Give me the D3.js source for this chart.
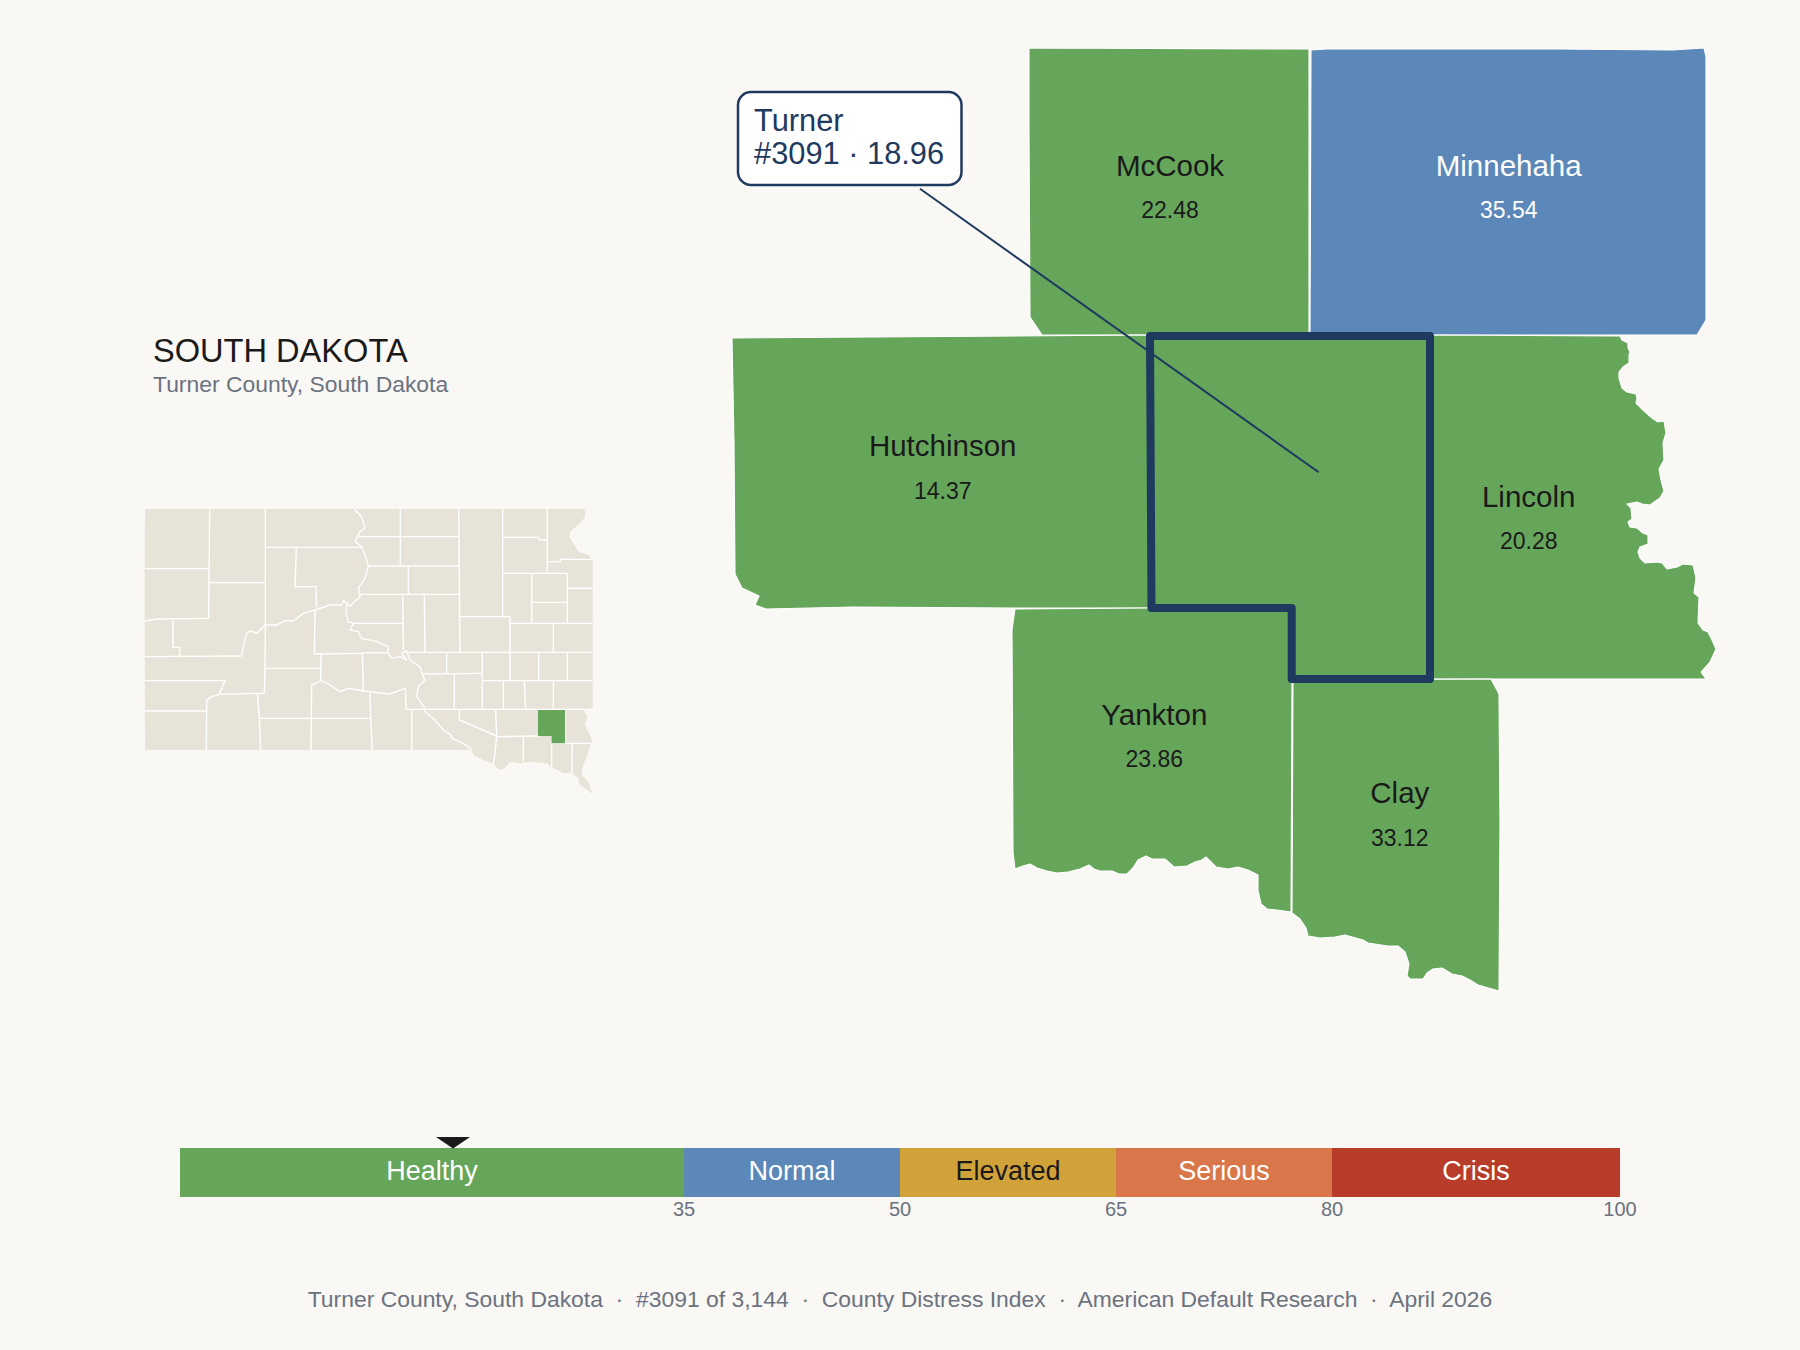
<!DOCTYPE html>
<html>
<head>
<meta charset="utf-8">
<script src="https://cdn.jsdelivr.net/npm/d3@7"></script>
<style>
  html, body { margin: 0; padding: 0; background: #faf8f4; }
  text { font-family: "Liberation Sans", Arial, sans-serif; }
</style>
</head>
<body>
<div id="chart"></div>
<script>
// band legend
var bandNames = ["Healthy", "Normal", "Elevated", "Serious", "Crisis"];
var bandBreaks = [35, 50, 65, 80];
var bandTicks = [35, 50, 65, 80, 100];
var bandColors = ["#66a65a", "#5b88b8", "#d1a23a", "#d9764a", "#b83c2a"];
var bandText = ["#ffffff", "#ffffff", "#1a1a1a", "#ffffff", "#ffffff"];
// labels sitting on the map use dark ink on green
var mapText = ["#1a1a1a", "#ffffff", "#1a1a1a", "#ffffff", "#ffffff"];

// neighbouring counties
var countyNames = ["McCook", "Minnehaha", "Hutchinson", "Lincoln", "Yankton", "Clay"];
var countyValues = [22.48, 35.54, 14.37, 20.28, 23.86, 33.12];

// focus county
var focusName = "Turner";
var focusRank = 3091;
var focusValue = 18.96;

// outlines, in map units
var mccookRing = [[309,18],[589,19],[589,305],[430,305],[322,305],[310,287],[309,100]];
var minnehahaRing = [[591,20],[607,19],[837,19],[953,20],[984,18],[986,27],[986,290],[977,305],[590,305]];
var hutchinsonRing = [[12,308],[428,305],[430,578],[293,578],[133,577],[46,579],[35,575],[39,566],[22,558],[15,544],[14,413]];
var turnerRing = [[430,306],[710,306],[710,649],[571.7,649],[571.7,578],[431.5,578]];
var lincolnRing = [[713,305],[900,306],[902,310],[908,313],[908,318],[910,322],[909,325],[909,333],[903,337],[899,342],[899,348],[902,358],[907,362],[916,364],[917,368],[916,373],[923,380],[932,388],[938,392],[944,391],[946,403],[943,413],[944,430],[939,439],[941,450],[944,461],[940,468],[930,475],[922,474],[917,472],[907,474],[911,478],[912,489],[908,492],[910,497],[917,498],[923,503],[928,505],[928,514],[920,517],[918,522],[920,528],[925,533],[937,532],[942,533],[947,539],[957,537],[963,534],[973,535],[976,548],[974,563],[979,567],[978,593],[983,600],[988,602],[992,610],[996,619],[990,632],[981,642],[986,649],[713,649]];
var yanktonRing = [[295,579],[431,578],[572,578],[572,649],[571,882],[557,880],[547,879],[541,874],[538,860],[538,845],[528,840],[518,837],[508,839],[496,837],[490,831],[486,827],[482,830],[475,832],[467,836],[454,837],[445,829],[432,829],[426,826],[418,830],[413,838],[407,844],[399,844],[392,841],[380,841],[374,839],[369,835],[360,839],[348,842],[337,843],[327,841],[317,838],[310,834],[303,836],[295,839],[293,822],[292,600]];
var clayRing = [[573,650],[771,649],[779,664],[780,793],[779,961],[772,959],[758,955],[750,950],[742,946],[732,944],[722,938],[713,939],[707,943],[703,949],[690,949],[687,946],[689,934],[685,922],[678,916],[668,916],[648,913],[643,910],[625,905],[615,907],[600,908],[588,906],[586,898],[580,889],[572,883]];

// where each county label and the leader line sit, in map units
var labelPoints = [[450,159.7],[788.7,159.7],[222.7,440],[808.7,490.7],[434.3,708.5],[679.8,787]];
var leaderPoints = [[200,158.7],[598.7,442.3]];

// state locator, in crop units
var stateRing = [[45,57],[1367,57],[1365,80],[1350,100],[1320,125],[1318,140],[1330,160],[1345,185],[1375,195],[1388,210],[1388,655],[1362,660],[1372,680],[1365,705],[1372,720],[1380,735],[1388,755],[1380,768],[1370,800],[1358,830],[1355,855],[1375,875],[1382,895],[1388,912],[1372,900],[1350,885],[1345,865],[1325,850],[1300,850],[1265,832],[1250,820],[1200,815],[1170,820],[1140,815],[1125,835],[1108,840],[1090,822],[1060,810],[1030,795],[1025,780],[45,780],[44,290]];
var stateFocusRing = [[1224,660],[1305,660],[1305,760],[1265,760],[1265,738],[1224,738]];
var stateBorders = [
  [[239,57],[236,385]], [[45,236],[236,236]], [[236,278],[406,278]],
  [[406,57],[406,405],[405,535],[403,610]],
  [[45,393],[80,387],[236,385]],
  [[129,390],[129,472],[149,472],[149,498]], [[45,500],[335,498]],
  [[335,498],[340,470],[350,430],[360,423],[380,430],[405,405],[440,405],[465,392],[490,393],[520,370],[555,360],[600,345],[635,345],[640,332],[660,348],[690,320],[685,295],[705,265],[715,230],[707,200],[695,170],[675,155],[690,125],[705,115],[695,80],[672,57]],
  [[406,172],[700,172]], [[499,172],[495,290],[559,290],[559,352]],
  [[555,360],[553,492],[697,490]], [[405,535],[573,535]], [[573,492],[572,570]],
  [[690,313],[988,313]], [[680,140],[985,140]], [[715,228],[988,228]], [[811,57],[811,228]],
  [[835,228],[835,313]], [[986,57],[990,490]], [[1118,57],[1118,380]],
  [[1118,142],[1225,142],[1228,150],[1250,150]], [[1252,57],[1252,250]], [[1118,250],[1312,250]],
  [[1205,250],[1205,400]], [[1205,337],[1312,337]], [[1312,250],[1312,400]], [[1312,295],[1388,295]],
  [[1252,215],[1290,215],[1292,208],[1388,208]],
  [[990,380],[1140,380]], [[1140,380],[1140,572]], [[1140,400],[1388,400]], [[1270,400],[1270,487]],
  [[835,487],[1388,487]], [[697,488],[775,488]],
  [[818,313],[820,480]], [[883,313],[885,487]],
  [[650,345],[648,370],[655,395],[670,400],[660,420],[685,425],[695,445],[740,455],[775,470],[775,490],[785,505],[810,500],[830,510],[815,490],[830,482],[840,510],[870,530],[878,555],[885,570],[865,590],[860,620],[885,655],[885,665],[915,690],[940,720],[962,735],[965,745],[1000,760],[1025,778]],
  [[670,400],[820,400]], [[697,490],[700,603]],
  [[545,585],[575,572],[600,585],[630,605],[655,595],[700,603],[780,612],[825,595]],
  [[545,585],[543,780]], [[720,610],[722,685],[727,780]], [[388,685],[722,685]],
  [[826,595],[828,658]], [[828,658],[1388,658]], [[845,658],[845,780]],
  [[382,610],[388,685],[392,780]],
  [[403,610],[382,610],[268,613],[285,572],[45,572]],
  [[268,613],[245,620],[230,632],[229,780]], [[45,663],[229,663]],
  [[950,487],[950,550]], [[1057,487],[1057,658]], [[878,552],[1057,550]], [[973,552],[973,658]],
  [[1057,572],[1388,572]], [[1120,572],[1120,658]], [[1183,572],[1187,658]], [[1270,572],[1270,658]],
  [[1226,487],[1226,572]], [[1312,487],[1312,572]],
  [[988,658],[988,690],[1100,738]], [[1097,658],[1100,738],[1095,790],[1090,822]],
  [[1100,740],[1225,738]], [[1265,760],[1388,760]],
  [[1180,740],[1180,815]], [[1265,760],[1265,832]], [[1327,762],[1325,850]], [[1305,660],[1305,760]]
];

var countyRings = [mccookRing, minnehahaRing, hutchinsonRing, lincolnRing, yanktonRing, clayRing];

var width = 1800, height = 1350;
var ink = "#1a1a1a", grey = "#6b7280", navy = "#1f3a5f";

var svg = d3.select("#chart")
  .append("svg")
    .attr("width", width)
    .attr("height", height)
    .style("display", "block")
    .style("background", "#faf8f4");

var bandColor = d3.scaleThreshold().domain(bandBreaks).range(bandColors);
var labelInk = d3.scaleThreshold().domain(bandBreaks).range(mapText);

// geojson rings have to end on their first point
function feature(ring, props) {
  return { type: "Feature", properties: props || {}, geometry: { type: "Polygon", coordinates: [ring.concat([ring[0]])] } };
}

// ------ main map
var projection = d3.geoIdentity().translate([720, 30]);
var mapPath = d3.geoPath(projection);
var mapG = svg.append("g");

var counties = countyNames.map((name, i) => feature(countyRings[i], { name: name, value: countyValues[i], at: projection(labelPoints[i]) }));
var focus = feature(turnerRing, { name: focusName, value: focusValue });

mapG.selectAll("path.county")
  .data(counties.concat([focus]))
  .enter()
  .append("path")
    .attr("class", "county")
    .attr("d", mapPath)
    .attr("fill", d => bandColor(d.properties.value))
    .attr("stroke", "#ffffff")
    .attr("stroke-width", 1.1)
    .attr("stroke-linejoin", "round");

mapG.append("path")
  .datum(focus)
  .attr("d", mapPath)
  .attr("fill", "none")
  .attr("stroke", navy)
  .attr("stroke-width", 8)
  .attr("stroke-linejoin", "round");

mapG.selectAll("text.name")
  .data(counties)
  .enter()
  .append("text")
    .attr("class", "name")
    .attr("x", d => d.properties.at[0])
    .attr("y", d => d.properties.at[1] - 14)
    .attr("text-anchor", "middle")
    .attr("font-size", 29.5)
    .attr("fill", d => labelInk(d.properties.value))
    .text(d => d.properties.name);

mapG.selectAll("text.value")
  .data(counties)
  .enter()
  .append("text")
    .attr("class", "value")
    .attr("x", d => d.properties.at[0])
    .attr("y", d => d.properties.at[1] + 28.6)
    .attr("text-anchor", "middle")
    .attr("font-size", 23)
    .attr("fill", d => labelInk(d.properties.value))
    .text(d => d3.format(".2f")(d.properties.value));

// callout
var callout = { x: 738, y: 92, w: 223.5, h: 93 };
var leader = leaderPoints.map(projection);

svg.append("line")
  .attr("x1", leader[0][0]).attr("y1", leader[0][1])
  .attr("x2", leader[1][0]).attr("y2", leader[1][1])
  .attr("stroke", navy)
  .attr("stroke-width", 2);

svg.append("rect")
  .attr("x", callout.x).attr("y", callout.y)
  .attr("width", callout.w).attr("height", callout.h)
  .attr("rx", 13)
  .attr("fill", "#ffffff")
  .attr("stroke", navy)
  .attr("stroke-width", 2.5);

svg.append("text")
  .attr("x", callout.x + 16).attr("y", 130.7)
  .attr("font-size", 30.8).attr("fill", navy)
  .text(focusName);

svg.append("text")
  .attr("x", callout.x + 16).attr("y", 163.7)
  .attr("font-size", 30.8).attr("fill", navy)
  .text("#" + focusRank + " \u00b7 " + d3.format(".2f")(focusValue));

// ------ title block
svg.append("text")
  .attr("x", 153).attr("y", 361.5)
  .attr("font-size", 32.6).attr("fill", ink)
  .text("SOUTH DAKOTA");

svg.append("text")
  .attr("x", 153).attr("y", 391.5)
  .attr("font-size", 22.9).attr("fill", grey)
  .text("Turner County, South Dakota");

// ------ locator map
var locX = d3.scaleLinear().domain([0, 1440]).range([130, 610]);
var locY = d3.scaleLinear().domain([0, 960]).range([490, 810]);
var locLine = d3.line().x(d => locX(d[0])).y(d => locY(d[1]));
var locG = svg.append("g");

locG.append("path")
  .attr("d", locLine(stateRing) + "Z")
  .attr("fill", "#e8e3d8");

locG.selectAll("path.border")
  .data(stateBorders)
  .enter()
  .append("path")
    .attr("class", "border")
    .attr("d", locLine)
    .attr("fill", "none")
    .attr("stroke", "#ffffff")
    .attr("stroke-width", 1.4);

locG.append("path")
  .attr("d", locLine(stateFocusRing) + "Z")
  .attr("fill", bandColor(focusValue));

// ------ band bar
var barY = 1148, barH = 49;
var x = d3.scaleLinear().domain([0, 100]).range([180, 1620]);
var bandEdges = [0].concat(bandTicks);
var bands = bandNames.map((name, i) => ({ name: name, from: bandEdges[i], to: bandEdges[i + 1], fill: bandColors[i], ink: bandText[i] }));

svg.selectAll("rect.band")
  .data(bands)
  .enter()
  .append("rect")
    .attr("class", "band")
    .attr("x", d => x(d.from))
    .attr("y", barY)
    .attr("width", d => x(d.to) - x(d.from))
    .attr("height", barH)
    .attr("fill", d => d.fill);

svg.selectAll("text.bandLabel")
  .data(bands)
  .enter()
  .append("text")
    .attr("class", "bandLabel")
    .attr("x", d => (x(d.from) + x(d.to)) / 2)
    .attr("y", 1179.5)
    .attr("text-anchor", "middle")
    .attr("font-size", 27)
    .attr("fill", d => d.ink)
    .text(d => d.name);

var xAxis = d3.axisBottom(x).tickValues(bandTicks).tickSize(0).tickPadding(5);
var axisG = svg.append("g")
  .attr("transform", "translate(-0.5," + (barY + barH) + ")")
  .call(xAxis);
axisG.select(".domain").remove();
axisG.selectAll("text")
  .attr("font-family", "Liberation Sans")
  .attr("font-size", 20)
  .attr("fill", grey);

// marker
svg.append("path")
  .attr("d", d3.line()([[x(focusValue) - 17, 1137], [x(focusValue) + 17, 1137], [x(focusValue), 1148.5]]) + "Z")
  .attr("fill", ink);

// ------ footer
svg.append("text")
  .attr("x", 900).attr("y", 1306.5)
  .attr("text-anchor", "middle")
  .attr("font-size", 22.9)
  .attr("fill", grey)
  .style("white-space", "pre")
  .text("Turner County, South Dakota  \u00b7  #3091 of 3,144  \u00b7  County Distress Index  \u00b7  American Default Research  \u00b7  April 2026");
</script>
</body>
</html>
